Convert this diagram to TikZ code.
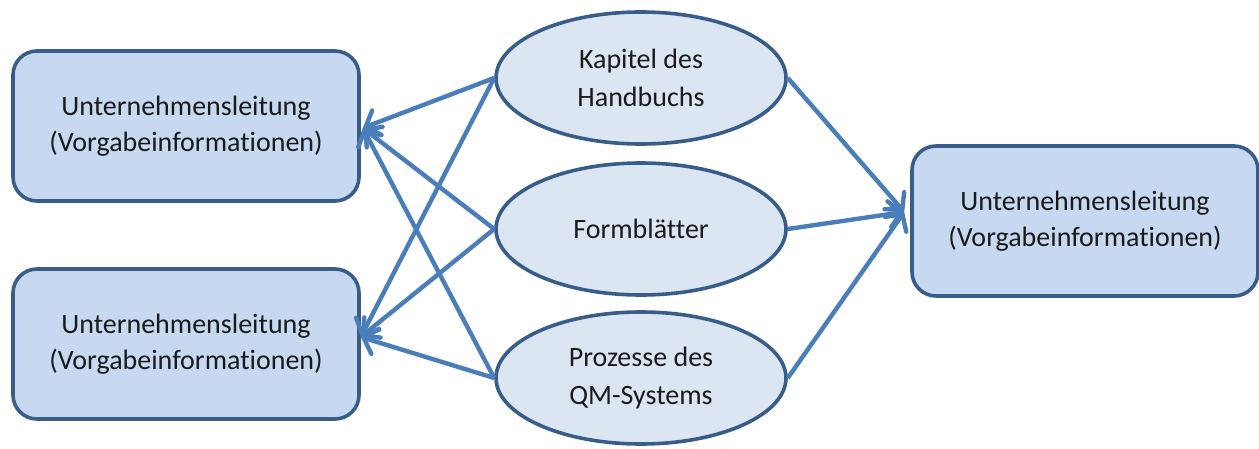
\documentclass[tikz,border=0pt]{standalone}
\usepackage{fontspec}
\setmainfont{Carlito}[Ligatures=NoCommon]
\usetikzlibrary{shapes.geometric,arrows.meta}

\definecolor{rand}{HTML}{385D8A}
\definecolor{kasten}{HTML}{C6D9F1}
\definecolor{oval}{HTML}{DCE6F2}
\definecolor{linie}{HTML}{4A7EBB}
\definecolor{schrift}{HTML}{1A1A1A}

\tikzset{
leitung/.style={draw=rand, fill=kasten, line width=1.8pt, rounded corners=12pt,
  minimum width=173pt, minimum height=75pt, align=center, text=schrift,
  font=\fontsize{14}{18}\selectfont},
inhalt/.style={ellipse, draw=rand, fill=oval, line width=1.8pt,
  minimum width=145pt, minimum height=66pt, inner sep=0pt, align=center,
  text=schrift, font=\fontsize{14}{19}\selectfont},
pfeil/.style={draw=linie, line width=2.2pt,
  -{Straight Barb[length=6pt,width=13pt,line cap=round]}}
}

\begin{document}
\begin{tikzpicture}[x=0.5pt,y=-0.5pt]
\useasboundingbox (0,0) rectangle (1259,449);

% Leitungsebene links und rechts
\node[leitung] (links1) at (186,126) {Unternehmensleitung\\(Vorgabeinformationen)};
\node[leitung] (links2) at (186,344) {Unternehmensleitung\\(Vorgabeinformationen)};
\node[leitung] (rechts) at (1085,221) {Unternehmensleitung\\(Vorgabeinformationen)};

% Dokumente in der Mitte
\node[inhalt] (kapitel) at (641,78) {Kapitel des\\Handbuchs};
\node[inhalt] (form) at (641,229) {Formbl\"atter};
\node[inhalt] (prozess) at (641,378) {Prozesse des\\QM-Systems};

% nach links
\foreach \quelle in {kapitel,form,prozess} {
    \draw[pfeil] (\quelle.west) -- ([shift={(1pt,-1pt)}]links1.east);
    \draw[pfeil] (\quelle.west) -- ([yshift=3.5pt]links2.east);
}

% nach rechts
\foreach \quelle in {kapitel,form,prozess}
    \draw[pfeil] (\quelle.east) -- ([shift={(-3pt,4.5pt)}]rechts.west);

\end{tikzpicture}
\end{document}
